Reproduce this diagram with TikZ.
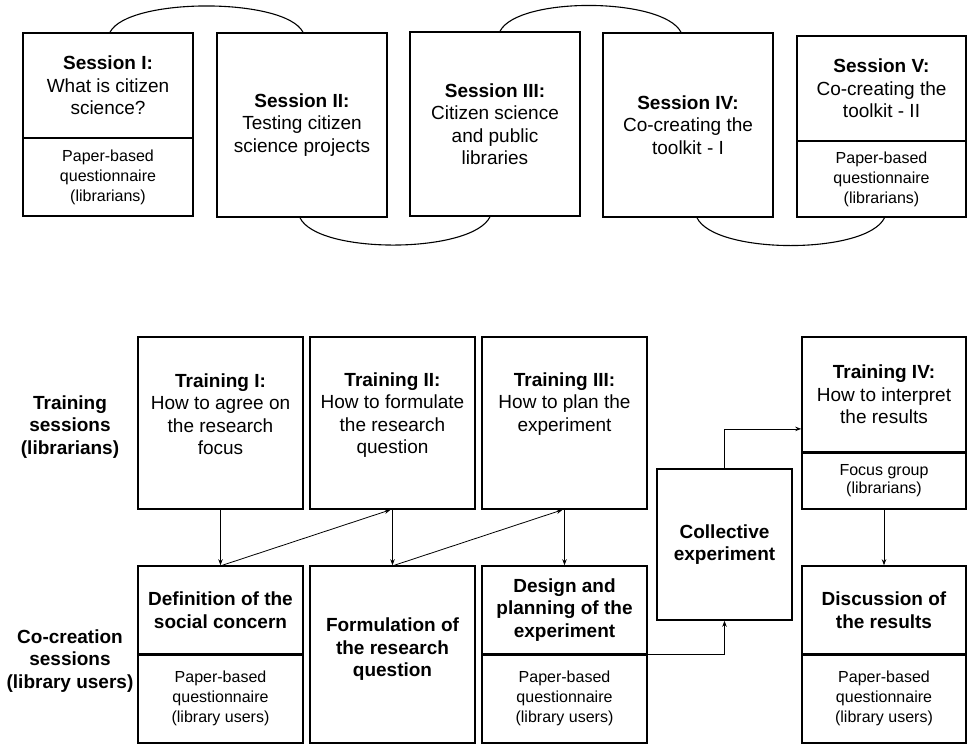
\documentclass[tikz,border=0pt]{standalone}
\usepackage{fontspec}
\setmainfont{Liberation Sans}
\usetikzlibrary{arrows.meta,calc}
\newcommand\mainsz{\fontsize{19}{22.5}\selectfont}
\newcommand\smallsz{\fontsize{16}{20}\selectfont}
\tikzset{
  box/.style={draw, line width=1.6pt, inner sep=0pt, align=center, font=\mainsz},
  smallbox/.style={box, font=\smallsz},
  txt/.style={inner sep=0pt, align=center, font=\mainsz},
  rowlabel/.style={inner sep=0pt, align=center, font=\mainsz\bfseries},
  divider/.style={line width=3.2pt},
  arr/.style={line width=0.8pt, -{Stealth[length=6pt,width=4.5pt]}},
  arc/.style={line width=1.1pt},
}
\begin{document}
\begin{tikzpicture}[x=1pt,y=-1pt]
\useasboundingbox (0,0) rectangle (968,744);
% ---------- top row ----------
\node[box, minimum width=170, minimum height=105] (S1a) at (108,85.5)
  {\textbf{Session I:}\\What is citizen\\science?};
\node[smallbox, minimum width=170, minimum height=78] (S1b) at (108,177)
  {Paper-based\\questionnaire\\(librarians)};
\node[box, minimum width=170, minimum height=184] (S2) at (302,125)
  {\textbf{Session II:}\\Testing citizen\\science projects};
\node[box, minimum width=170, minimum height=184] (S3) at (495,124)
  {\textbf{Session III:}\\Citizen science\\and public\\libraries};
\node[box, minimum width=170, minimum height=184] (S4) at (688,125)
  {\textbf{Session IV:}\\Co-creating the\\toolkit - I};
\node[box, minimum width=169, minimum height=105] (S5a) at (881.5,88.5)
  {\textbf{Session V:}\\Co-creating the\\toolkit - II};
\node[smallbox, minimum width=169, minimum height=76] (S5b) at (881.5,179)
  {Paper-based\\questionnaire\\(librarians)};
% arcs
\draw[arc] ([xshift=2pt]S1a.north) .. controls +(18,-35) and +(-18,-35) .. ([xshift=1pt]S2.north);
\draw[arc] ([xshift=5pt]S3.north) .. controls +(18,-35) and +(-18,-35) .. ([xshift=-7pt]S4.north);
\draw[arc] ([xshift=-2pt]S2.south) .. controls +(18,37) and +(-18,37) .. ([xshift=-5pt]S3.south);
\draw[arc] ([xshift=9pt]S4.south) .. controls +(18,37) and +(-18,37) .. ([xshift=3pt]S5b.south);
% ---------- bottom part ----------
\node[rowlabel] (L1) at (70,427) {Training\\sessions\\(librarians)};
\node[rowlabel] (L2) at (70,661) {Co-creation\\sessions\\(library users)};

\node[box, minimum width=165, minimum height=172] (T1) at (220.5,423) {};
\node[txt, anchor=north] (T1t) at ([yshift=-37pt]T1.north)
  {\textbf{Training I:}\\How to agree on\\the research\\focus};
\node[box, minimum width=165, minimum height=172] (T2) at (392.5,423) {};
\node[txt, anchor=north] (T2t) at ([yshift=-36pt]T2.north)
  {\textbf{Training II:}\\How to formulate\\the research\\question};
\node[box, minimum width=165, minimum height=172] (T3) at (564.5,423) {};
\node[txt, anchor=north] (T3t) at ([yshift=-36pt]T3.north)
  {\textbf{Training III:}\\How to plan the\\experiment};
\node[box, minimum width=164, minimum height=115] (T4a) at (884,394.5)
  {\textbf{Training IV:}\\How to interpret\\the results};
\node[smallbox, minimum width=164, minimum height=57, font=\fontsize{16}{18.5}\selectfont] (T4b) at (884,480.5)
  {Focus group\\(librarians)};
\draw[divider] (T4a.south west) -- (T4a.south east);

\node[box, minimum width=135, minimum height=151, font=\mainsz\bfseries] (CE) at (724.5,544.5)
  {Collective\\experiment};

\node[box, minimum width=165, minimum height=88, font=\mainsz\bfseries] (D1a) at (220.5,610)
  {Definition of the\\social concern};
\node[smallbox, minimum width=165, minimum height=89] (D1b) at (220.5,698.5)
  {Paper-based\\questionnaire\\(library users)};
\draw[divider] (D1a.south west) -- (D1a.south east);
\node[box, minimum width=165, minimum height=177] (D2) at (392.5,654.5) {};
\node[txt, font=\mainsz\bfseries] (D2t) at ([yshift=5pt]D2.center)
  {Formulation of\\the research\\question};
\node[box, minimum width=165, minimum height=88, font=\mainsz\bfseries] (D3a) at (564.5,610)
  {Design and\\planning of the\\experiment};
\node[smallbox, minimum width=165, minimum height=89] (D3b) at (564.5,698.5)
  {Paper-based\\questionnaire\\(library users)};
\draw[divider] (D3a.south west) -- (D3a.south east);
\node[box, minimum width=164, minimum height=88, font=\mainsz\bfseries] (D4a) at (884,610)
  {Discussion of\\the results};
\node[smallbox, minimum width=164, minimum height=89] (D4b) at (884,698.5)
  {Paper-based\\questionnaire\\(library users)};
\draw[divider] (D4a.south west) -- (D4a.south east);

% ---------- connectors ----------
\draw[arr] (T1.south) -- (D1a.north);
\draw[arr] ([xshift=2pt]D1a.north) -- ([xshift=-2pt]T2.south);
\draw[arr] (T2.south) -- (D2.north);
\draw[arr] ([xshift=2pt]D2.north) -- ([xshift=-2pt]T3.south);
\draw[arr] (T3.south) -- (D3a.north);
\draw[arr] (D3a.south east) -| (CE.south);
\coordinate (T4in) at ($(T4a.north west)!0.795!(T4a.south west)$);
\draw[arr] (CE.north) |- (T4in);
\draw[arr] (T4b.south) -- (D4a.north);
\end{tikzpicture}
\end{document}
